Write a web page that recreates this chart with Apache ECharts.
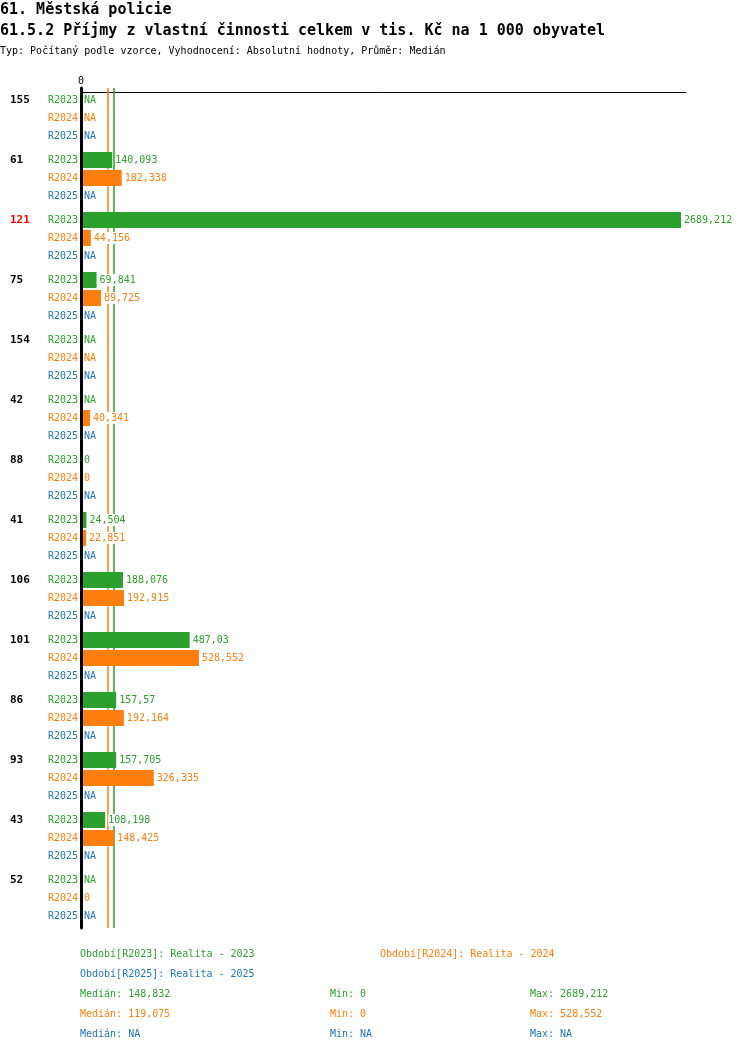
<!DOCTYPE html>
<html>

<head>
    <meta charset="UTF-8">
    <script src="https://cdn.jsdelivr.net/npm/echarts@6/dist/echarts.min.js"></script>
</head>

<body style="margin:0;background-color:#ffffff;">
    <div id="main" style="width:750px;height:1052px"></div>
    <script type="text/javascript">
        // skupiny shora dolu
        var kody = ['155', '61', '121', '75', '154', '42', '88', '41', '106', '101', '86', '93', '43', '52'];
        var zvyraznit = '121';
        var obdobi = ['R2023', 'R2024', 'R2025'];
        var popisy = ['Realita - 2023', 'Realita - 2024', 'Realita - 2025'];
        var barvy = ['#2ca02c', '#ff7f0e', '#1f77b4'];
        // hodnoty, null = NA
        var r2023 = [null, 140.093, 2689.212, 69.841, null, null, 0, 24.504, 188.076, 487.03, 157.57, 157.705, 108.198, null];
        var r2024 = [null, 182.338, 44.156, 89.725, null, 40.341, 0, 22.851, 192.915, 528.552, 192.164, 326.335, 148.425, 0];
        var r2025 = [null, null, null, null, null, null, null, null, null, null, null, null, null, null];
        // souhrn
        var mediany = [148.832, 119.075, null];
        var minima = [0, 0, null];
        var maxima = [2689.212, 528.552, null];

        var hodnoty = [r2023, r2024, r2025];
        var font = 'DejaVu Sans Mono';

        function fmt(v) {
            return v == null ? 'NA' : String(v).replace('.', ',');
        }

        var series = [];
        for (var i = 0; i < obdobi.length; i++) {
            (function (i) {
                // pomocna serie jen pro popisek R20xx vlevo od osy
                series.push({
                    name: obdobi[i] + '_popis',
                    type: 'bar',
                    stack: obdobi[i],
                    silent: true,
                    z: 10,
                    data: kody.map(function () { return 0; }),
                    itemStyle: { color: 'rgba(0,0,0,0)' },
                    label: {
                        show: true,
                        position: 'left',
                        distance: 3,
                        formatter: obdobi[i],
                        color: barvy[i],
                        fontSize: 10,
                        fontFamily: font
                    }
                });
                var s = {
                    name: obdobi[i],
                    type: 'bar',
                    stack: obdobi[i],
                    z: 10,
                    barWidth: 16,
                    barGap: '12.5%',
                    data: hodnoty[i].map(function (v) { return v == null ? 0 : v; }),
                    itemStyle: { color: barvy[i] },
                    label: {
                        show: true,
                        position: 'right',
                        distance: 3,
                        color: barvy[i],
                        fontSize: 10,
                        fontFamily: font,
                        backgroundColor: '#ffffff',
                        padding: [1, 0],
                        formatter: function (p) {
                            return fmt(hodnoty[i][p.dataIndex]);
                        }
                    }
                };
                if (mediany[i] != null) {
                    // median jako svisla cara pres cely graf
                    s.markLine = {
                        silent: true,
                        z: 1,
                        symbol: 'none',
                        label: { show: false },
                        emphasis: { disabled: true },
                        data: [{
                            xAxis: mediany[i],
                            lineStyle: { color: barvy[i], type: 'solid', width: 1.5, opacity: 1 }
                        }]
                    };
                }
                series.push(s);
            })(i);
        }

        var titles = [
            { text: '61. Městská policie', left: 0, top: 3, textStyle: { fontSize: 15, fontWeight: 'bold' } },
            { text: '61.5.2 Příjmy z vlastní činnosti celkem v tis. Kč na 1 000 obyvatel', left: 0, top: 24, textStyle: { fontSize: 15, fontWeight: 'bold' } },
            { text: 'Typ: Počítaný podle vzorce, Vyhodnocení: Absolutní hodnoty, Průměr: Medián', left: 0, top: 46, textStyle: { fontSize: 10, fontWeight: 'normal' } }
        ];
        // legenda obdobi
        var legPos = [[80, 949], [380, 949], [80, 969]];
        for (var k = 0; k < obdobi.length; k++) {
            titles.push({
                text: 'Období[' + obdobi[k] + ']: ' + popisy[k],
                left: legPos[k][0], top: legPos[k][1],
                textStyle: { fontSize: 10, fontWeight: 'normal', color: barvy[k] }
            });
        }
        // statistiky
        for (var k = 0; k < obdobi.length; k++) {
            var radekY = 989 + k * 20;
            titles.push({ text: 'Medián: ' + fmt(mediany[k]), left: 80, top: radekY, textStyle: { fontSize: 10, fontWeight: 'normal', color: barvy[k] } });
            titles.push({ text: 'Min: ' + fmt(minima[k]), left: 330, top: radekY, textStyle: { fontSize: 10, fontWeight: 'normal', color: barvy[k] } });
            titles.push({ text: 'Max: ' + fmt(maxima[k]), left: 530, top: radekY, textStyle: { fontSize: 10, fontWeight: 'normal', color: barvy[k] } });
        }
        titles.forEach(function (t) {
            t.padding = 0;
            t.textStyle.fontFamily = font;
            if (!t.textStyle.color) t.textStyle.color = '#000000';
        });

        var myChart = echarts.init(document.getElementById('main'));

        var option = {
            animation: false,
            backgroundColor: '#ffffff',
            title: titles,
            grid: { left: 81, top: 88, width: 605, height: 840 },
            xAxis: {
                type: 'value',
                position: 'top',
                offset: -4,
                min: 0,
                max: 2711.6,
                splitLine: { show: false },
                axisTick: { show: false },
                axisLine: { show: true, lineStyle: { color: '#000000', width: 1 } },
                axisLabel: {
                    fontSize: 10,
                    fontFamily: font,
                    color: '#000000',
                    margin: 6,
                    formatter: function (v) { return v === 0 ? '0' : ''; }
                }
            },
            yAxis: {
                type: 'category',
                inverse: true,
                data: kody,
                z: 20,
                axisTick: { show: false },
                axisLine: { show: true, lineStyle: { color: '#000000', width: 3 } },
                axisLabel: {
                    align: 'left',
                    margin: 71,
                    padding: [0, 0, 36, 0],
                    formatter: function (v) {
                        return v === zvyraznit ? '{r|' + v + '}' : '{b|' + v + '}';
                    },
                    rich: {
                        b: { color: '#000000', fontWeight: 'bold', fontSize: 11, fontFamily: font },
                        r: { color: '#ff0000', fontWeight: 'bold', fontSize: 11, fontFamily: font }
                    }
                }
            },
            series: series
        };

        myChart.setOption(option);
    </script>
</body>

</html>
